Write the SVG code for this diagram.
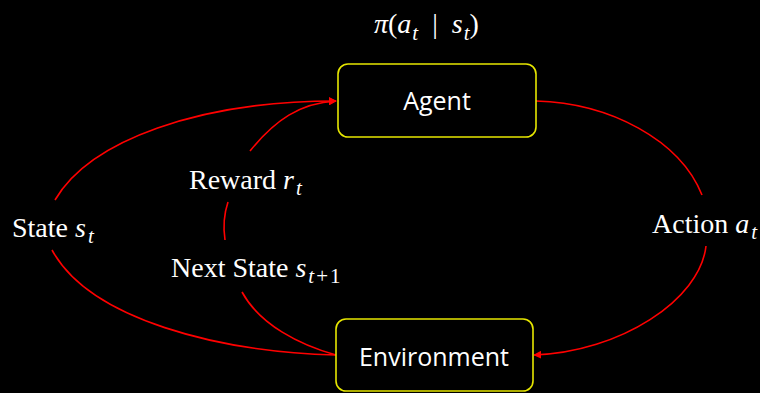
<svg xmlns="http://www.w3.org/2000/svg" width="760" height="393" viewBox="0 0 760 393">
  <style>
    .box { fill: #000; stroke: #e6e600; stroke-width: 1.6; }
    .node-text { font-family: "Open Sans", "Noto Sans", sans-serif; font-size: 25px; fill: #fff; text-anchor: middle; }
    .label { font-family: "Liberation Serif", "DejaVu Serif", serif; font-size: 28px; fill: #fff; }
    .math { font-style: italic; }
    .sub { font-size: 21px; font-style: italic; }
    .edge { fill: none; stroke: #f00; stroke-width: 1.6; }
  </style>
  <defs>
    <marker id="arrow" viewBox="0 0 10 10" refX="9" refY="5" markerWidth="8" markerHeight="8" markerUnits="userSpaceOnUse" orient="auto">
      <path d="M0,0 L10,5 L0,10 z" fill="#f00"/>
    </marker>
  </defs>
  <rect width="760" height="393" fill="#000"/>

  <g id="connectors">
    <path class="edge" d="M55,200 C90,140 200,101 336,101" marker-end="url(#arrow)"/>
    <path class="edge" d="M250,151 C275,120 300,103 336,101" marker-end="url(#arrow)"/>
    <path class="edge" d="M228,202 Q222,220 225,240"/>
    <path class="edge" d="M336,355 C300,345 260,325 242,292"/>
    <path class="edge" d="M336,355 C220,352 90,320 52,250"/>
    <path class="edge" d="M536,101 C610,103 680,140 702,195"/>
    <path class="edge" d="M706,246 C700,300 620,352 534,355" marker-end="url(#arrow)"/>
  </g>

  <g id="agent">
    <rect class="box" x="338" y="64" width="198" height="73" rx="10"/>
    <text class="node-text" x="437" y="110">Agent</text>
  </g>

  <g id="environment">
    <rect class="box" x="336" y="319" width="197" height="72" rx="10"/>
    <text class="node-text" x="434" y="366">Environment</text>
  </g>

  <g id="policy">
    <text class="label" x="374" y="33" font-size="34"><tspan class="math">π</tspan>(<tspan class="math">a</tspan><tspan class="sub" dx="1" dy="7" font-size="23">t</tspan><tspan dy="-7" xml:space="preserve">  |  </tspan><tspan class="math">s</tspan><tspan class="sub" dx="1" dy="7" font-size="23">t</tspan><tspan dy="-7">)</tspan></text>
  </g>

  <g id="labels">
    <text class="label" x="12" y="237">State <tspan class="math">s</tspan><tspan class="sub" dx="2" dy="6">t</tspan></text>
    <text class="label" x="189" y="189">Reward <tspan class="math">r</tspan><tspan class="sub" dx="2" dy="6">t</tspan></text>
    <text class="label" x="171" y="277">Next State <tspan class="math">s</tspan><tspan class="sub" dx="2" dy="6">t</tspan><tspan dx="2" font-size="21">+</tspan><tspan dx="2" font-size="21">1</tspan></text>
    <text class="label" x="652" y="233">Action <tspan class="math">a</tspan><tspan class="sub" dx="2" dy="6">t</tspan></text>
  </g>
</svg>
